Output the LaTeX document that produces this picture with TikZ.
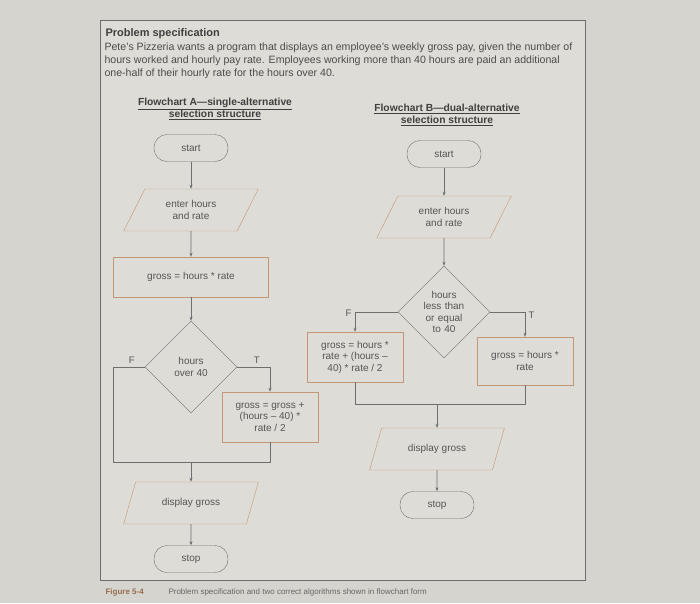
\documentclass[tikz,border=0pt]{standalone}
\usepackage{fontspec}
\setmainfont{Liberation Sans}
\usetikzlibrary{shapes.geometric,arrows.meta}
\definecolor{bgc}{RGB}{214,212,206}
\definecolor{pagec}{RGB}{222,220,214}
\definecolor{edgec}{RGB}{196,150,120}
\definecolor{linec}{RGB}{110,110,110}
\definecolor{txt}{RGB}{85,85,85}
\definecolor{figc}{RGB}{150,110,80}
\begin{document}
\begin{tikzpicture}[x=1pt,y=-1pt,
  every node/.style={text=txt,font=\fontsize{10}{11.5}\selectfont,align=center},
  term/.style={draw=linec,rounded corners=13pt,minimum width=74pt,minimum height=27pt},
  io/.style={draw=edgec,trapezium,trapezium left angle=60,trapezium right angle=120,trapezium stretches=true,minimum height=42pt,minimum width=135pt,inner sep=1pt},
  proc/.style={draw=edgec,minimum height=40pt,inner sep=2pt},
  dec/.style={draw=linec,diamond,inner sep=0pt,minimum width=92pt,minimum height=92pt},
  ln/.style={draw=linec,line width=0.7pt},
  ar/.style={ln,-{Stealth[length=4pt,width=3pt]}},
  lab/.style={font=\fontsize{9.5}{10}\selectfont}]
\useasboundingbox (0,0) rectangle (700,603);
\fill[bgc] (0,0) rectangle (700,603);
\fill[pagec] (100,20) rectangle (585,580);
\draw[linec,line width=0.8pt] (100,20) rectangle (585,580);
% header
\node[anchor=west,font=\bfseries\fontsize{11}{12}\selectfont,text=black!75] (title) at (102,34) {Problem specification};
\node[anchor=west,text=black!70,font=\fontsize{10.6}{12}\selectfont] (p1) at (101,48) {Pete's Pizzeria wants a program that displays an employee's weekly gross pay, given the number of};
\node[anchor=west,text=black!70,font=\fontsize{10.6}{12}\selectfont] (p2) at (101,61) {hours worked and hourly pay rate. Employees working more than 40 hours are paid an additional};
\node[anchor=west,text=black!70,font=\fontsize{10.6}{12}\selectfont] (p3) at (101,74) {one-half of their hourly rate for the hours over 40.};
\node[font=\bfseries\fontsize{10.3}{12}\selectfont,text=black!75] (ha) at (215,109) {\underline{Flowchart A---single-alternative}\\\underline{selection structure}};
\node[font=\bfseries\fontsize{10.3}{12}\selectfont,text=black!75] (hb) at (447,115) {\underline{Flowchart B---dual-alternative}\\\underline{selection structure}};
% A
\node[term] (as) at (191,148) {start};
\node[io] (ae) at (191,210) {enter hours\\and rate};
\node[proc,minimum width=155pt] (ag) at (191,277) {gross = hours * rate};
\node[dec] (ad) at (191,367) {hours\\over 40};
\node[proc,minimum width=96pt,minimum height=50pt] (ag2) at (270,417) {gross = gross +\\(hours -- 40) *\\rate / 2};
\node[io] (ao) at (191,503) {display gross};
\node[term] (ast) at (191,559) {stop};
\coordinate (am) at (191,462);
\draw[ar] (as) -- (ae);
\draw[ar] (ae) -- (ag);
\draw[ar] (ag) -- (ad);
\draw[ar] (ad.east) -| (ag2.north) node[lab,pos=0.3,above] {T};
\draw[ln] (ad.west) -| (113,462) node[lab,pos=0.1,above left] {F} -- (am);
\draw[ln] (ag2.south) |- (am);
\draw[ar] (am) -- (ao);
\draw[ar] (ao) -- (ast);
% B
\node[term] (bs) at (444,154) {start};
\node[io] (be) at (444,217) {enter hours\\and rate};
\node[dec,text width=44pt] (bd) at (444,312) {hours\\less than\\or equal\\to 40};
\node[proc,minimum width=96pt,minimum height=50pt] (bf) at (355,357) {gross = hours *\\rate + (hours --\\40) * rate / 2};
\node[proc,minimum width=96pt,minimum height=48pt] (bt) at (525,361) {gross = hours *\\rate};
\node[io] (bo) at (437,449) {display gross};
\node[term] (bst) at (437,505) {stop};
\coordinate (bm) at (437,404);
\draw[ar] (bs) -- (be);
\draw[ar] (be) -- (bd);
\draw[ar] (bd.west) -| (bf.north) node[lab,pos=0.7,above left] {F};
\draw[ar] (bd.east) -| (bt.north) node[lab,pos=0.7,above right] {T};
\draw[ln] (bf.south) |- (bm);
\draw[ln] (bt.south) |- (bm);
\draw[ar] (bm) -- (bo);
\draw[ar] (bo) -- (bst);
% caption
\node[anchor=west,text=figc,font=\bfseries\fontsize{8}{9}\selectfont] (fig) at (102,592) {Figure 5-4};
\node[anchor=west,text=black!60,font=\fontsize{8}{9}\selectfont] (cap) at (165,592) {Problem specification and two correct algorithms shown in flowchart form};
\end{tikzpicture}
\end{document}
